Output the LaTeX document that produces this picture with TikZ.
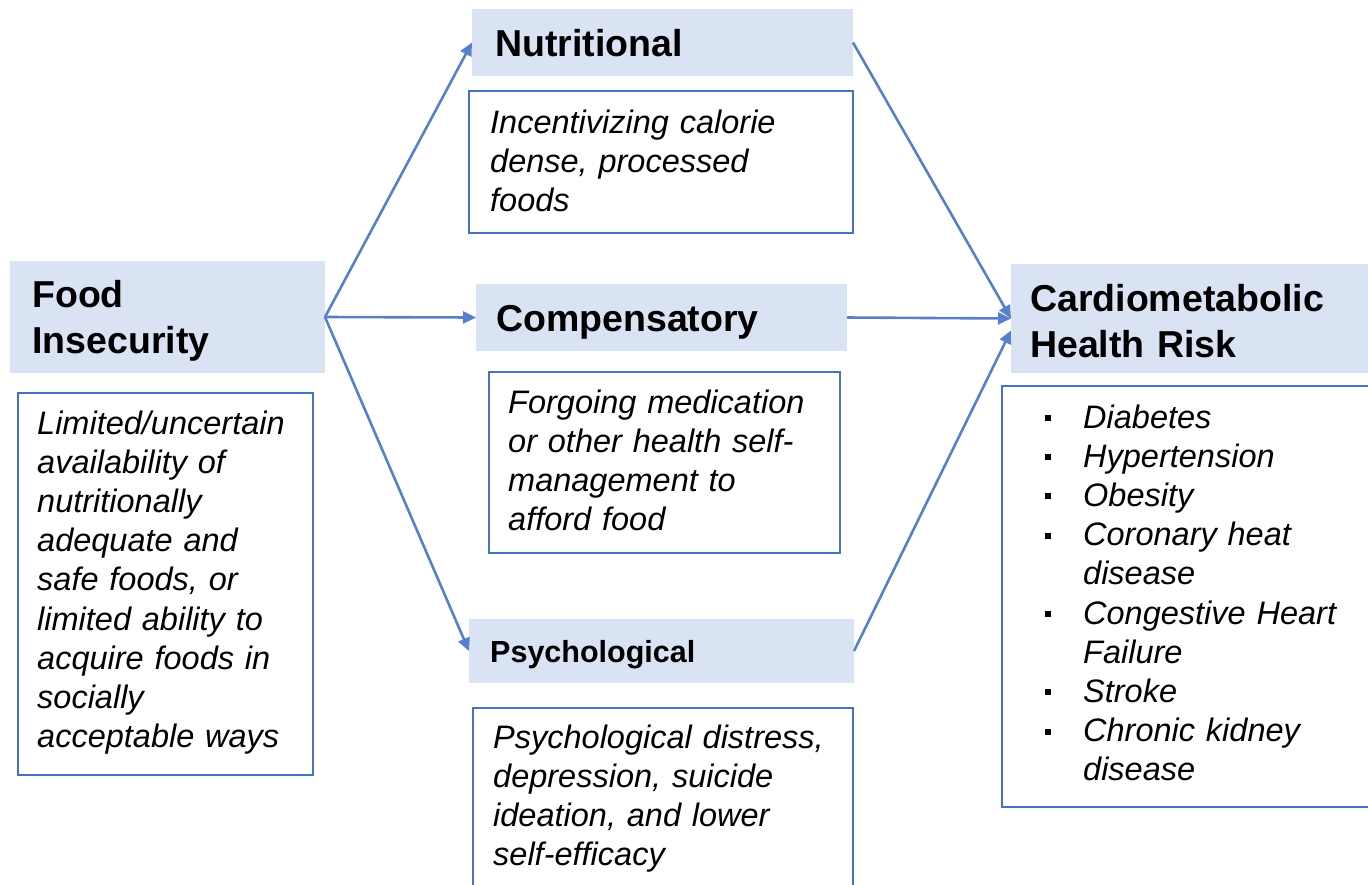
\documentclass[tikz,border=0pt]{standalone}
\usepackage{fontspec}
\setmainfont{Liberation Sans}
\usetikzlibrary{arrows.meta}
\definecolor{hdrfill}{HTML}{DAE3F3}
\definecolor{edgeblue}{HTML}{4472C4}
\newcommand\mybul{\makebox[38pt][l]{\raisebox{7pt}{\rule{6pt}{6pt}}}}
\newcommand\myind{\hspace*{38pt}}
\begin{document}
\begin{tikzpicture}[x=1pt,y=-1pt,
  hbox/.style={fill=hdrfill, draw=none, inner sep=0pt, outer sep=0pt, anchor=north west},
  dbox/.style={draw=edgeblue, line width=2.4pt, fill=white, inner sep=0pt, outer sep=0pt, anchor=north west},
  htext/.style={anchor=base west, inner sep=0pt, text width=360pt, align=left,
    font=\fontsize{37.5}{46}\selectfont\bfseries},
  ptext/.style={anchor=base west, inner sep=0pt, text width=360pt, align=left,
    font=\fontsize{30.5}{36}\selectfont\bfseries},
  dtext/.style={anchor=base west, inner sep=0pt, text width=400pt, align=left,
    font=\fontsize{32.5}{39.2}\selectfont\itshape},
  conn/.style={draw=edgeblue!90!white, line width=2.6pt, -{Triangle[length=13pt,width=12pt]}}]
\useasboundingbox (0,0) rectangle (1368,884);

% header boxes
\node[hbox, minimum width=315pt, minimum height=112pt] (food) at (10,261) {};
\node[hbox, minimum width=381pt, minimum height=67pt] (nut) at (472,9) {};
\node[hbox, minimum width=371pt, minimum height=67pt] (comp) at (476,284) {};
\node[hbox, minimum width=385pt, minimum height=64pt] (psych) at (469,619) {};
\node[hbox, minimum width=370pt, minimum height=109pt] (cardio) at (1011,264) {};

% description boxes
\node[dbox, minimum width=295pt, minimum height=382pt] (fooddesc) at (18,393) {};
\node[dbox, minimum width=384pt, minimum height=142pt] (nutdesc) at (469,91) {};
\node[dbox, minimum width=351pt, minimum height=181pt] (compdesc) at (489,372) {};
\node[dbox, minimum width=380pt, minimum height=200pt] (psychdesc) at (473,708) {};
\node[dbox, minimum width=380pt, minimum height=421pt] (cardiodesc) at (1002,386) {};

% header texts
\node[htext] (foodt) at (32,307) {Food\\Insecurity};
\node[htext] (nutt) at (495,56) {Nutritional};
\node[htext] (compt) at (496,331) {Compensatory};
\node[ptext] (psycht) at (490,662) {Psychological};
\node[htext] (cardiot) at (1030,311) {Cardiometabolic\\Health Risk};

% description texts
\node[dtext] (fooddt) at (37,434) {Limited/uncertain\\availability of\\nutritionally\\adequate and\\safe foods, or\\limited ability to\\acquire foods in\\socially\\acceptable ways};
\node[dtext] (nutdt) at (490,133) {Incentivizing calorie\\dense, processed\\foods};
\node[dtext] (compdt) at (508,413) {Forgoing medication\\or other health self-\\management to\\afford food};
\node[dtext] (psychdt) at (493,748) {Psychological distress,\\depression, suicide\\ideation, and lower\\self-efficacy};
\node[dtext] (cardiodt) at (1045,428) {\mybul Diabetes\\\mybul Hypertension\\\mybul Obesity\\\mybul Coronary heat\\\myind disease\\\mybul Congestive Heart\\\myind Failure\\\mybul Stroke\\\mybul Chronic kidney\\\myind disease};

% connectors
\draw[conn] (food.east) -- (nut.west);
\draw[conn] (food.east) -- (comp.west);
\draw[conn] (food.east) -- (psych.west);
\draw[conn] (nut.east) -- (cardio.west);
\draw[conn] (comp.east) -- (cardio.west);
\draw[conn] (psych.east) -- ([yshift=-12pt]cardio.west);
\end{tikzpicture}
\end{document}
